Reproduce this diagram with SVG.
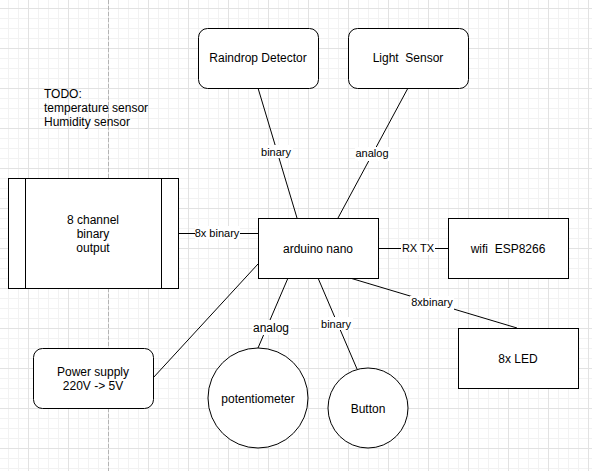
<svg xmlns="http://www.w3.org/2000/svg" width="592" height="471" viewBox="0 0 592 471">
<style>
text{font-family:"Liberation Sans",Arial,sans-serif;fill:#000;text-anchor:middle;white-space:pre}
.n{font-size:12px}
.e{font-size:11px}
.box{fill:#fff;stroke:#000;stroke-width:1}
.edge{stroke:#000;stroke-width:1;fill:none}
.lbg{fill:#fff}
</style>
<defs>
<pattern id="grid" patternUnits="userSpaceOnUse" x="28" y="8" width="40" height="40">
<path d="M10.5 0V40M20.5 0V40M30.5 0V40M0 10.5H40M0 20.5H40M0 30.5H40" stroke="#f2f2f2" stroke-width="1" fill="none"/>
<path d="M0.5 0V40M0 0.5H40" stroke="#e2e2e2" stroke-width="1" fill="none"/>
</pattern>
</defs>
<rect width="592" height="471" fill="#fff"/>
<rect width="592" height="471" fill="url(#grid)"/>
<line x1="108.5" y1="0" x2="108.5" y2="471" stroke="#b4b4b4" stroke-dasharray="4 2"/>

<g id="connectors">
<line class="edge" x1="258" y1="88" x2="297" y2="218"/>
<line class="edge" x1="408" y1="88" x2="338" y2="218"/>
<line class="edge" x1="178" y1="233.5" x2="258" y2="233.5"/>
<line class="edge" x1="378" y1="248.5" x2="448" y2="248.5"/>
<line class="edge" x1="350" y1="278" x2="517" y2="328"/>
<line class="edge" x1="153" y1="378" x2="258" y2="264"/>
<line class="edge" x1="288" y1="278" x2="258" y2="348"/>
<line class="edge" x1="318" y1="278" x2="357" y2="369"/>
<rect class="lbg" x="259" y="145" width="34" height="13"/>
<text class="e" x="276" y="156">binary</text>
<rect class="lbg" x="355" y="147" width="35" height="14"/>
<text class="e" x="372" y="157">analog</text>
<rect class="lbg" x="195" y="226" width="45" height="13"/>
<text class="e" x="217" y="237">8x binary</text>
<rect class="lbg" x="401" y="241" width="34" height="14"/>
<text class="e" x="418" y="252">RX TX</text>
<rect class="lbg" x="410" y="296" width="44" height="14"/>
<text class="e" x="432" y="306">8xbinary</text>
<rect class="lbg" x="252" y="320" width="39" height="15"/>
<text class="n" x="271" y="332">analog</text>
<rect class="lbg" x="319" y="317" width="34" height="13"/>
<text class="e" x="336" y="328">binary</text>
</g>

<g id="todo">
<text class="n" x="44" y="98" style="text-anchor:start">TODO:</text>
<text class="n" x="44" y="112" style="text-anchor:start">temperature sensor</text>
<text class="n" x="44" y="126" style="text-anchor:start">Humidity sensor</text>
</g>

<g id="raindrop">
<rect class="box" x="198.5" y="28.5" width="120" height="60" rx="9"/>
<text class="n" x="258" y="62">Raindrop Detector</text>
</g>
<g id="light">
<rect class="box" x="348.5" y="28.5" width="120" height="60" rx="9"/>
<text class="n" x="408" y="62">Light  Sensor</text>
</g>
<g id="output">
<rect class="box" x="8.5" y="178.5" width="170" height="110"/>
<line class="edge" x1="25.5" y1="178.5" x2="25.5" y2="288.5"/>
<line class="edge" x1="161.5" y1="178.5" x2="161.5" y2="288.5"/>
<text class="n" x="93" y="224">8 channel</text>
<text class="n" x="93" y="238">binary</text>
<text class="n" x="93" y="252">output</text>
</g>
<g id="arduino">
<rect class="box" x="258.5" y="218.5" width="120" height="60"/>
<text class="n" x="318" y="253">arduino nano</text>
</g>
<g id="wifi">
<rect class="box" x="448.5" y="218.5" width="120" height="60"/>
<text class="n" x="508" y="253">wifi  ESP8266</text>
</g>
<g id="led">
<rect class="box" x="458.5" y="328.5" width="120" height="60"/>
<text class="n" x="518" y="363">8x LED</text>
</g>
<g id="power">
<rect class="box" x="33.5" y="348.5" width="120" height="60" rx="9"/>
<text class="n" x="93" y="376">Power supply</text>
<text class="n" x="93" y="390">220V -&gt; 5V</text>
</g>
<g id="potentiometer">
<circle class="box" cx="258" cy="398" r="50"/>
<text class="n" x="258" y="403">potentiometer</text>
</g>
<g id="button">
<circle class="box" cx="368" cy="408" r="40"/>
<text class="n" x="368" y="413">Button</text>
</g>
</svg>
